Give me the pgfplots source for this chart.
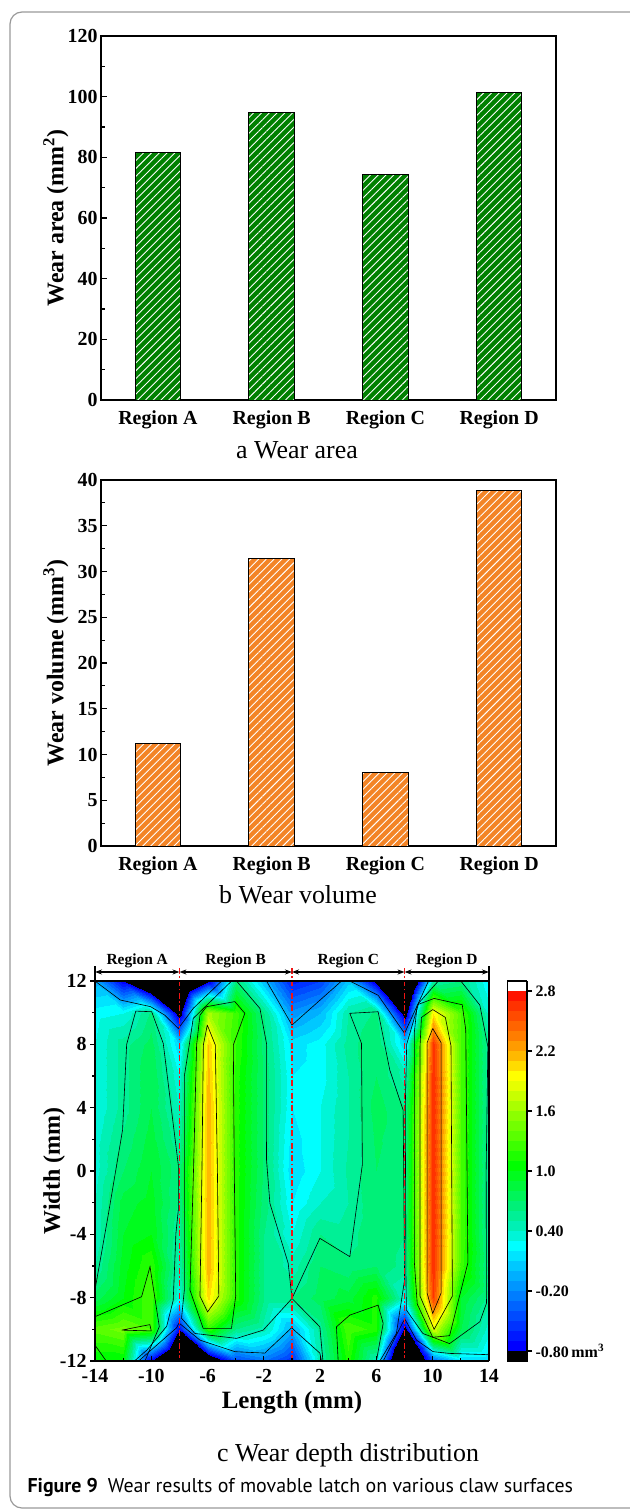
\documentclass[border=0pt]{standalone}
\usepackage{fontspec}
\setmainfont{Liberation Serif}
\newfontfamily\capfont{PT Sans}
\usepackage{pgfplots}
\pgfplotsset{compat=1.18}
\usetikzlibrary{patterns.meta,arrows.meta}

\definecolor{bargreen}{RGB}{0,128,0}
\definecolor{barorange}{RGB}{243,132,38}
\definecolor{dashred}{RGB}{240,20,20}

\pgfplotsset{
  barax/.style={
    scale only axis, width=455bp,
    xmin=-0.5, xmax=3.5, ymin=0,
    ybar, bar width=0.4,
    xtick={0,1,2,3},
    xticklabels={Region A,Region B,Region C,Region D},
    tick pos=left, tick align=inside,
    minor y tick num=1,
    major tick length=6bp, minor tick length=3.5bp,
    every tick/.style={black,line width=1.2bp},
    axis line style={line width=1.5bp},
    tick label style={font=\bfseries\fontsize{20}{24}\selectfont},
    xticklabel style={yshift=-7bp},
    ylabel style={font=\bfseries\fontsize{24}{28}\selectfont,
      at={(axis description cs:-0.099,0.5)}, anchor=center},
  },
  cline/.style={black, line width=0.6bp, no marks},
  sep/.style={dashred, line width=1.6bp, dash pattern=on 6bp off 2.5bp on 1.5bp off 2.5bp, no marks},
}

\begin{document}
\begin{tikzpicture}
\useasboundingbox (0,0) rectangle (630bp,-1510bp);
\draw[black!40, line width=1.2bp, rounded corners=12bp] (10bp,-12bp) rectangle (660bp,-1508bp);

% ---------------- (a) Wear area
\begin{axis}[barax, at={(101bp,-400bp)}, anchor=south west, height=364bp,
  ymax=120, ytick={0,20,...,120}, yticklabels={0,20,40,60,80,100,120},
  ylabel={Wear area (mm\textsuperscript{2})}]
\addplot[fill=bargreen, draw=black, line width=1bp,
  postaction={pattern={Lines[angle=45,distance=5.5bp,line width=0.9bp]}, pattern color=white}]
  coordinates {(0,81.5) (1,94.7) (2,74.5) (3,101.4)};
\end{axis}
\node[font=\fontsize{26}{30}\selectfont] at (297bp,-450bp) {a Wear area};

% ---------------- (b) Wear volume
\begin{axis}[barax, at={(101bp,-846bp)}, anchor=south west, height=366bp,
  ymax=40, ytick={0,5,...,40}, yticklabels={0,5,10,15,20,25,30,35,40},
  ylabel={Wear volume (mm\textsuperscript{3})}]
\addplot[fill=barorange, draw=black, line width=1bp,
  postaction={pattern={Lines[angle=45,distance=5.5bp,line width=0.9bp]}, pattern color=white}]
  coordinates {(0,11.2) (1,31.4) (2,8.0) (3,38.9)};
\end{axis}
\node[font=\fontsize{26}{30}\selectfont] at (298bp,-895bp) {b Wear volume};

% ---------------- (c) Wear depth distribution
\begin{axis}[at={(95bp,-1361bp)}, anchor=south west,
  scale only axis, width=394bp, height=380bp,
  view={0}{90}, clip=false, axis on top,
  xmin=-14, xmax=14, ymin=-12, ymax=12,
  xtick={-14,-10,-6,-2,2,6,10,14},
  xticklabels={-14,-10,-6,-2,2,6,10,14},
  ytick={-12,-8,-4,0,4,8,12},
  yticklabels={-12,-8,-4,0,4,8,12},
  minor x tick num=1, minor y tick num=1,
  xtick pos=left, ytick pos=left,
  xtick align=inside, ytick align=outside,
  major tick length=5bp, minor tick length=3bp,
  every tick/.style={black,line width=1.2bp},
  axis line style={line width=1.5bp},
  tick label style={font=\bfseries\fontsize{20}{24}\selectfont},
  xticklabel style={yshift=-5bp},
  xlabel={Length (mm)}, ylabel={Width (mm)},
  xlabel style={font=\bfseries\fontsize{25}{28}\selectfont,
    at={(axis description cs:0.5,-0.1105)}, anchor=center},
  ylabel style={font=\bfseries\fontsize{24}{28}\selectfont,
    at={(axis description cs:-0.104,0.5)}, anchor=center},
  colormap={wear}{
    rgb255(0cm)=(0,0,0) rgb255(12cm)=(0,0,255) rgb255(13cm)=(0,25,255)
    rgb255(14cm)=(0,50,255) rgb255(15cm)=(0,75,255) rgb255(16cm)=(0,100,255)
    rgb255(17cm)=(0,125,255) rgb255(18cm)=(0,150,255) rgb255(19cm)=(0,175,255)
    rgb255(20cm)=(0,200,255) rgb255(21cm)=(0,228,255) rgb255(22cm)=(0,255,255)
    rgb255(23cm)=(0,245,215) rgb255(24cm)=(0,240,180) rgb255(25cm)=(0,240,150)
    rgb255(26cm)=(0,240,120) rgb255(27cm)=(0,245,90) rgb255(28cm)=(0,248,60)
    rgb255(29cm)=(0,252,30) rgb255(30cm)=(0,255,0) rgb255(31cm)=(30,255,0)
    rgb255(32cm)=(60,255,0) rgb255(33cm)=(90,255,0) rgb255(34cm)=(115,255,0)
    rgb255(35cm)=(140,255,0) rgb255(36cm)=(170,255,0) rgb255(37cm)=(200,255,0)
    rgb255(38cm)=(230,255,0) rgb255(39cm)=(255,255,0) rgb255(40cm)=(255,220,0)
    rgb255(41cm)=(255,185,0) rgb255(42cm)=(255,155,0) rgb255(43cm)=(255,125,0)
    rgb255(44cm)=(255,100,0) rgb255(45cm)=(255,75,0) rgb255(46cm)=(255,50,0)
    rgb255(47cm)=(255,20,0) rgb255(48cm)=(255,255,255) rgb255(49cm)=(255,255,255)
  },
  colormap access=piecewise constant,
  point meta min=-2.0, point meta max=2.9,
  colorbar,
  colorbar style={
    at={(parent axis.north east)}, anchor=north west, xshift=10bp,
    scale only axis, width=19.6bp, height=380bp,
    ymin=-0.9, ymax=2.9,
    ytick={-0.8,-0.2,0.4,1.0,1.6,2.2,2.8},
    yticklabels={-0.80\,mm\textsuperscript{3},-0.20,0.40,1.0,1.6,2.2,2.8},
    yticklabel style={font=\bfseries\fontsize{16}{18}\selectfont},
    ytick pos=right, yticklabel pos=right, ytick align=outside,
    major tick length=5bp,
    every tick/.style={black,line width=1.2bp},
    axis line style={line width=1.2bp},
  },
]
\addplot3[surf, shader=interp, mesh/cols=15] table[x=x,y=y,z=z] {
x y z
-14 12 -0.05
-12 12 -0.8
-10 12 -1.7
-8 12 -2.0
-6 12 -0.85
-4 12 0.65
-2 12 0.0
0 12 -0.65
2 12 -0.5
4 12 0.05
6 12 -0.9
8 12 -2.0
10 12 0.5
12 12 0.6
14 12 0.2
-14 10 0.25
-12 10 0.3
-10 10 0.62
-8 10 -1.0
-6 10 1.65
-4 10 1.25
-2 10 0.6
0 10 -0.15
2 10 0.0
4 10 0.5
6 10 0.62
8 10 -1.0
10 10 2.0
12 10 1.3
14 10 0.35
-14 8 0.3
-12 8 0.55
-10 8 0.75
-8 8 0.1
-6 8 2.1
-4 8 1.2
-2 8 0.65
0 8 0.15
2 8 0.25
4 8 0.55
6 8 0.7
8 8 0.1
10 8 2.65
12 8 1.3
14 8 0.5
-14 6 0.3
-12 6 0.55
-10 6 0.8
-8 6 0.3
-6 6 2.15
-4 6 1.15
-2 6 0.68
0 6 0.2
2 6 0.25
4 6 0.5
6 6 0.7
8 6 0.45
10 6 2.7
12 6 1.3
14 6 0.5
-14 4 0.3
-12 4 0.55
-10 4 0.8
-8 4 0.4
-6 4 2.2
-4 4 1.15
-2 4 0.68
0 4 0.2
2 4 0.3
4 4 0.5
6 4 0.75
8 4 0.6
10 4 2.7
12 4 1.3
14 4 0.5
-14 2 0.35
-12 2 0.62
-10 2 0.85
-8 2 0.5
-6 2 2.2
-4 2 1.15
-2 2 0.68
0 2 0.15
2 2 0.3
4 2 0.5
6 2 0.72
8 2 0.62
10 2 2.7
12 2 1.3
14 2 0.5
-14 0 0.35
-12 0 0.7
-10 0 0.9
-8 0 0.62
-6 0 2.2
-4 0 1.15
-2 0 0.68
0 0 0.12
2 0 0.3
4 0 0.52
6 0 0.7
8 0 0.62
10 0 2.7
12 0 1.3
14 0 0.5
-14 -2 0.4
-12 -2 0.85
-10 -2 0.95
-8 -2 0.58
-6 -2 2.2
-4 -2 1.15
-2 -2 0.65
0 -2 0.2
2 -2 0.4
4 -2 0.5
6 -2 0.7
8 -2 0.62
10 -2 2.7
12 -2 1.3
14 -2 0.5
-14 -4 0.4
-12 -4 0.9
-10 -4 1.0
-8 -4 0.5
-6 -4 2.2
-4 -4 1.15
-2 -4 0.6
0 -4 0.3
2 -4 0.6
4 -4 0.55
6 -4 0.7
8 -4 0.6
10 -4 2.7
12 -4 1.3
14 -4 0.5
-14 -6 0.5
-12 -6 0.95
-10 -6 1.2
-8 -6 0.45
-6 -6 2.2
-4 -6 1.15
-2 -6 0.6
0 -6 0.45
2 -6 0.7
4 -6 0.62
6 -6 0.7
8 -6 0.55
10 -6 2.7
12 -6 1.25
14 -6 0.55
-14 -8 0.75
-12 -8 1.0
-10 -8 1.3
-8 -8 0.3
-6 -8 2.05
-4 -8 1.15
-2 -8 0.6
0 -8 0.6
2 -8 0.75
4 -8 0.85
6 -8 1.15
8 -8 0.35
10 -8 2.6
12 -8 0.9
14 -8 0.55
-14 -10 1.35
-12 -10 1.45
-10 -10 1.3
-8 -10 -0.75
-6 -10 1.2
-4 -10 0.6
-2 -10 0.45
0 -10 -0.05
2 -10 0.55
4 -10 1.3
6 -10 1.15
8 -10 -0.9
10 -10 1.85
12 -10 0.8
14 -10 0.35
-14 -12 1.0
-12 -12 1.0
-10 -12 -0.8
-8 -12 -2.0
-6 -12 -1.3
-4 -12 -0.5
-2 -12 -0.3
0 -12 -0.6
2 -12 0.45
4 -12 1.15
6 -12 0.4
8 -12 -2.0
10 -12 -0.4
12 -12 0.1
14 -12 0.1
};
% contour lines, level 0.0
\addplot[cline] coordinates {(-14,12) (-12.2,10.8) (-10.05,10.38) (-9.05,9.85) (-8.08,9.0) (-7.02,10.27) (-5.0,12)};
\addplot[cline] coordinates {(-1.81,12) (0,9.22) (3.52,12)};
\addplot[cline] coordinates {(4.11,12) (6.12,11.1) (8.0,8.7) (9.7,12)};
\addplot[cline] coordinates {(-10.9,-12) (-8.2,-9.9) (-8.03,-9.6) (-6.54,-10.68) (-4.06,-11.41) (-1.93,-11.5) (-0.03,-9.9) (1.98,-11.5) (2.1,-12)};
\addplot[cline] coordinates {(6.48,-12) (7.9,-9.52) (8.02,-9.36) (8.13,-9.52) (8.85,-10.68) (10.03,-11.41) (11.2,-11.52) (14,-11.6)};
% level 0.6
\addplot[cline] coordinates {(-14,-7.5) (-13.04,-2.68) (-12.04,2.6) (-11.75,8.0) (-11.1,10.1) (-9.97,10.06) (-9.15,8.06) (-8.08,0.38) (-8.08,-2.47) (-8.25,-3.94) (-8.44,-8.15) (-8.9,-9.8) (-10.3,-11.3) (-11.2,-12)};
\addplot[cline] coordinates {(-3.94,12) (-2.28,10.27) (-1.8,8) (-1.81,0.69) (-1.57,-2.04) (-0.27,-5.83) (0,-8.05) (-2.05,-10.05) (-3.94,-10.57) (-6.9,-10.26) (-7.85,-9.3) (-7.65,-7.5) (-7.65,6) (-7.3,7.96) (-7.02,9.64) (-4.29,12)};
\addplot[cline] coordinates {(0,-8.05) (1.98,-4.25) (4.11,-5.41) (5.0,0.4) (4.94,8.06) (4.11,9.96) (6.12,10.06) (6.95,6.38) (7.9,3.85) (8.0,-6.89) (7.42,-10.26) (6.24,-12)};
\addplot[cline] coordinates {(0,-8.05) (1.98,-9.84) (2.2,-12)};
\addplot[cline] coordinates {(10.4,12) (9.0,10.6) (8.15,8.0) (8.05,4.0) (8.1,-7.0) (8.13,-8.78) (9.3,-10.26) (11.2,-10.9) (13.35,-9.52) (13.82,-8.36) (13.8,0) (13.92,7.85) (13.35,10.48) (12.0,12)};
% level 1.2
\addplot[cline] coordinates {(-14,-9.2) (-10.69,-7.94) (-10.09,-6.04) (-9.43,-9.83) (-10.45,-12)};
\addplot[cline] coordinates {(-14,-11.0) (-13.2,-12)};
\addplot[cline] coordinates {(-12.1,-10.05) (-10.1,-9.7) (-10.0,-10.1) (-12.1,-10.05)};
\addplot[cline] coordinates {(-6.54,9.85) (-6.07,10.38) (-4.06,10.7) (-3.35,9.96) (-4.17,7.96) (-4.1,0) (-4.0,-7.9) (-4.3,-9.94) (-6.31,-9.94) (-7.25,-7.52) (-7.0,0) (-6.78,7.96) (-6.54,9.85)};
\addplot[cline] coordinates {(3.28,-12) (3.16,-9.84) (4.11,-9.1) (6.12,-8.47) (6.48,-9.62) (6.0,-12)};
\addplot[cline] coordinates {(10.1,10.9) (12.1,10.5) (12.35,8.9) (12.5,-5.8) (11.2,-10.4) (10.0,-10.5) (8.9,-8.4) (8.7,-5.8) (8.7,8.8) (8.9,10.5) (10.1,10.9)};
% level 1.8
\addplot[cline] coordinates {(-6.02,9.22) (-5.45,7.96) (-5.3,0) (-5.2,-7.9) (-6.0,-8.9) (-6.54,-7.9) (-6.4,0) (-6.3,7.96) (-6.02,9.22)};
\addplot[cline] coordinates {(10.0,10.2) (10.9,9.7) (11.3,7.9) (11.4,-7.9) (10.1,-10.0) (9.1,-7.9) (9.1,7.9) (9.2,9.7) (10.0,10.2)};
% level 2.4
\addplot[cline] coordinates {(10.0,9.0) (10.6,8.1) (10.6,-7.7) (10.0,-9.0) (9.6,-7.7) (9.6,8.1) (10.0,9.0)};
% region separators
\addplot[sep] coordinates {(-8,-12) (-8,12.95)};
\addplot[sep] coordinates {(0,-12) (0,12.95)};
\addplot[sep] coordinates {(8,-12) (8,12.95)};
\addplot[black, line width=1.2bp, no marks] coordinates {(-14,12) (-14,12.95)};
\addplot[black, line width=1.2bp, no marks] coordinates {(14,12) (14,12.95)};
\draw[{Stealth[length=7bp,width=5bp]}-{Stealth[length=7bp,width=5bp]}, line width=1.1bp] (axis cs:-14,12.57) -- (axis cs:-8,12.57);
\draw[{Stealth[length=7bp,width=5bp]}-{Stealth[length=7bp,width=5bp]}, line width=1.1bp] (axis cs:-8,12.57) -- (axis cs:0,12.57);
\draw[{Stealth[length=7bp,width=5bp]}-{Stealth[length=7bp,width=5bp]}, line width=1.1bp] (axis cs:0,12.57) -- (axis cs:8,12.57);
\draw[{Stealth[length=7bp,width=5bp]}-{Stealth[length=7bp,width=5bp]}, line width=1.1bp] (axis cs:8,12.57) -- (axis cs:14,12.57);
\node[font=\bfseries\fontsize{15.5}{18}\selectfont] at (axis cs:-11,13.3) {Region A};
\node[font=\bfseries\fontsize{15.5}{18}\selectfont] at (axis cs:-4,13.3) {Region B};
\node[font=\bfseries\fontsize{15.5}{18}\selectfont] at (axis cs:4,13.3) {Region C};
\node[font=\bfseries\fontsize{15.5}{18}\selectfont] at (axis cs:11,13.3) {Region D};
\end{axis}
\node[font=\fontsize{26}{30}\selectfont] at (348bp,-1455bp) {c Wear depth distribution};
\node[anchor=west, font=\capfont\fontsize{20}{24}\selectfont] at (24bp,-1487bp) {\textbf{Figure 9}\hspace{10bp}Wear results of movable latch on various claw surfaces};
\end{tikzpicture}
\end{document}
